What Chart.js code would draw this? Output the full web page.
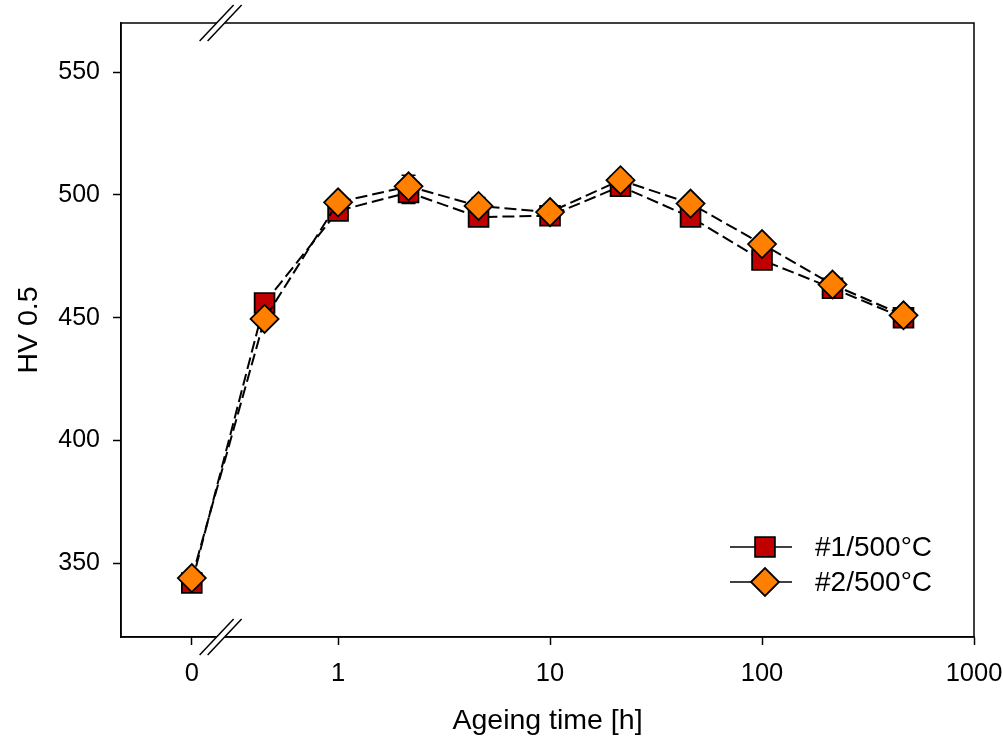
<!DOCTYPE html>
<html>
<head>
<meta charset="utf-8">
<script src="https://cdn.jsdelivr.net/npm/chart.js@4.4.1/dist/chart.umd.min.js"></script>
<style>
    html, body { margin: 0; padding: 0; background: #ffffff; }
</style>
</head>
<body>
<canvas id="mycanvas" width="1003" height="742"></canvas>
<script>
// ageing time [h] and hardness values
const times = [0, 0.45, 1, 2.15, 4.6, 10, 21.5, 46, 100, 215, 465];
const hv1 = [342, 456, 493.5, 501, 491, 491.5, 503.5, 491, 473.5, 462, 450];
const hv2 = [344, 449.5, 497, 503.5, 495.5, 493, 506, 496.5, 480, 463.5, 451];
const err1 = [2, 2, 2, 4.5, 2, 2.5, 2, 2, 2, 2, 2];
const err2 = [3, 2.5, 2, 4.5, 3.5, 2, 2, 2.5, 3, 3, 3];

const seriesNames = ['#1/500°C', '#2/500°C'];
const xTickTimes = [0, 1, 10, 100, 1000];
const xTickLabels = ['0', '1', '10', '100', '1000'];
const yTicks = [350, 400, 450, 500, 550];

// the broken log axis: 0 sits left of the break, the rest is log10
const ZERO_POS = -0.69;
const BREAK_POS = -0.554;
const xpos = t => t === 0 ? ZERO_POS : Math.log10(t);

const FONT = "'Liberation Sans', Arial, sans-serif";

const framePlugin = {
    id: 'frame',
    beforeDatasetsDraw(chart) {
        // error bars, drawn under the markers
        const ctx = chart.ctx;
        const xs = chart.scales.x, ys = chart.scales.y;
        ctx.save();
        ctx.strokeStyle = '#000';
        ctx.lineWidth = 1.5;
        [[hv1, err1], [hv2, err2]].forEach(([vals, errs]) => {
            vals.forEach((v, i) => {
                const x = xs.getPixelForValue(xpos(times[i]));
                const y1 = ys.getPixelForValue(v - errs[i]);
                const y2 = ys.getPixelForValue(v + errs[i]);
                ctx.beginPath();
                ctx.moveTo(x, y1); ctx.lineTo(x, y2);
                ctx.moveTo(x - 7, y1); ctx.lineTo(x + 7, y1);
                ctx.moveTo(x - 7, y2); ctx.lineTo(x + 7, y2);
                ctx.stroke();
            });
        });
        ctx.restore();
    },
    afterDraw(chart) {
        const ctx = chart.ctx;
        const a = chart.chartArea;
        ctx.save();
        ctx.strokeStyle = '#000';
        ctx.lineWidth = 1.5;
        ctx.strokeRect(a.left, a.top, a.right - a.left, a.bottom - a.top);

        // axis break marks
        const bx = chart.scales.x.getPixelForValue(BREAK_POS);
        [a.top, a.bottom].forEach(y => {
            ctx.fillStyle = '#fff';
            ctx.beginPath();
            ctx.moveTo(bx - 4 - 2, y + 2);
            ctx.lineTo(bx + 4 - 2, y + 2);
            ctx.lineTo(bx + 4 + 2, y - 2);
            ctx.lineTo(bx - 4 + 2, y - 2);
            ctx.closePath();
            ctx.fill();
            [-4, 4].forEach(d => {
                ctx.beginPath();
                ctx.moveTo(bx + d - 17, y + 18);
                ctx.lineTo(bx + d + 17, y - 18);
                ctx.stroke();
            });
        });

        // legend
        const lx = a.right - 209;
        const rows = [a.bottom - 90, a.bottom - 55];
        chart.data.datasets.forEach((ds, i) => {
            const y = rows[i];
            ctx.strokeStyle = '#000';
            ctx.lineWidth = 1.5;
            ctx.beginPath();
            ctx.moveTo(lx - 35, y); ctx.lineTo(lx + 27, y);
            ctx.stroke();
            ctx.fillStyle = ds.backgroundColor;
            ctx.lineWidth = ds.pointBorderWidth;
            Chart.helpers.drawPoint(ctx, {
                pointStyle: ds.pointStyle, radius: ds.pointRadius, rotation: 0, borderWidth: ds.pointBorderWidth
            }, lx, y);
            ctx.fillStyle = '#000';
            ctx.font = '28px ' + FONT;
            ctx.textBaseline = 'middle';
            ctx.textAlign = 'left';
            ctx.fillText(seriesNames[i], lx + 50, y + 1);
        });
        ctx.restore();
    }
};

const mycanvas = document.getElementById('mycanvas').getContext('2d');
const chart = new Chart(mycanvas, {
    type: 'line',
    data: {
        datasets: [
            {
                label: seriesNames[0],
                data: times.map((t, i) => ({ x: xpos(t), y: hv1[i] })),
                borderColor: '#000000',
                borderWidth: 2,
                borderDash: [12, 5],
                backgroundColor: '#C00000',
                pointStyle: 'rect',
                pointRadius: 14,
                pointBorderColor: '#000000',
                pointBorderWidth: 1.8,
                order: 1
            },
            {
                label: seriesNames[1],
                data: times.map((t, i) => ({ x: xpos(t), y: hv2[i] })),
                borderColor: '#000000',
                borderWidth: 2,
                borderDash: [12, 5],
                backgroundColor: '#FF8000',
                pointStyle: 'rectRot',
                pointRadius: 14,
                pointBorderColor: '#000000',
                pointBorderWidth: 1.8,
                order: 0
            }
        ]
    },
    options: {
        responsive: false,
        animation: false,
        events: [],
        layout: { padding: { top: 23, right: 29, left: 0, bottom: 0 } },
        elements: { line: { tension: 0, fill: false } },
        plugins: {
            legend: { display: false },
            tooltip: { enabled: false }
        },
        scales: {
            x: {
                type: 'linear',
                min: -1.024,
                max: 3.0,
                afterFit: s => { s.height = 105; s.paddingLeft = 0; s.paddingRight = 0; },
                afterBuildTicks: s => { s.ticks = xTickTimes.map(t => ({ value: xpos(t) })); },
                grid: {
                    drawOnChartArea: false,
                    tickLength: 8,
                    tickWidth: 1.5,
                    tickColor: '#000000'
                },
                border: { display: true, color: '#000000', width: 1.5 },
                ticks: {
                    autoSkip: false,
                    maxRotation: 0,
                    padding: 14,
                    color: '#000000',
                    font: { family: FONT, size: 25.5 },
                    callback: (v, i) => xTickLabels[i]
                },
                title: {
                    display: true,
                    text: 'Ageing time [h]',
                    color: '#000000',
                    font: { family: FONT, size: 28.5 },
                    padding: { top: 0, bottom: 4 }
                }
            },
            y: {
                type: 'linear',
                min: 320,
                max: 570,
                afterFit: s => { s.width = 121; s.paddingTop = 0; s.paddingBottom = 0; },
                afterBuildTicks: s => { s.ticks = yTicks.map(v => ({ value: v })); },
                grid: {
                    drawOnChartArea: false,
                    tickLength: 8,
                    tickWidth: 1.5,
                    tickColor: '#000000'
                },
                border: { display: true, color: '#000000', width: 1.5 },
                ticks: {
                    padding: 13,
                    color: '#000000',
                    font: { family: FONT, size: 25 }
                },
                title: {
                    display: true,
                    text: 'HV 0.5',
                    color: '#000000',
                    font: { family: FONT, size: 28.5 },
                    padding: { top: 12, bottom: 0 }
                }
            }
        }
    },
    plugins: [framePlugin]
});
</script>
</body>
</html>
